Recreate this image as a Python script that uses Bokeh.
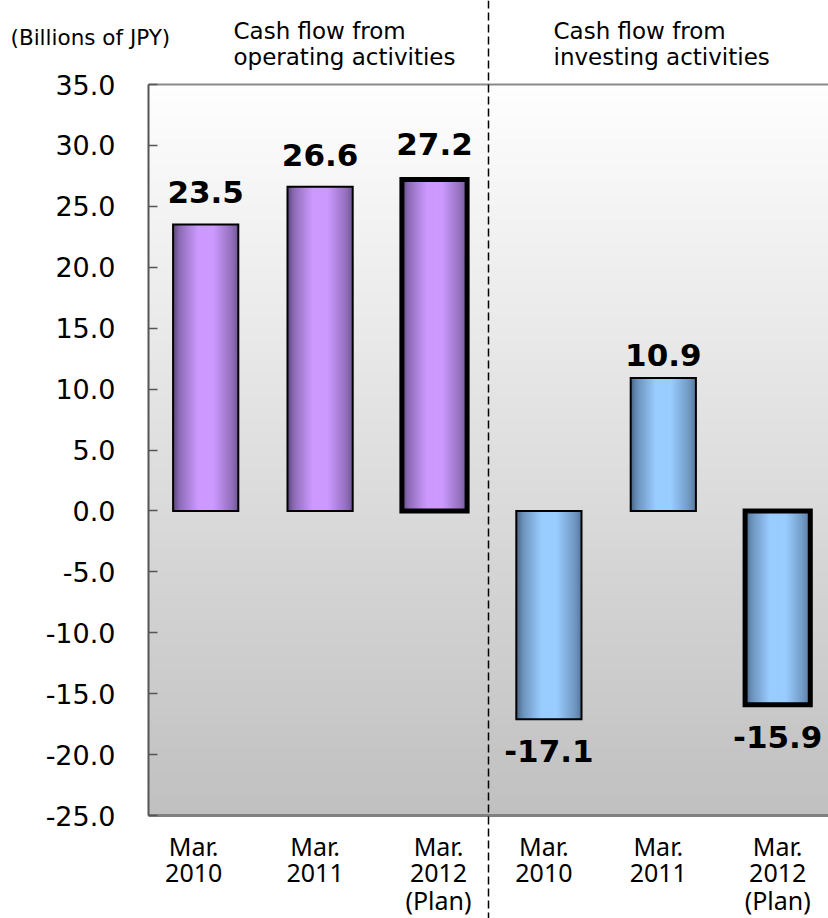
import numpy as np
from bokeh.plotting import figure
from bokeh.models import Range1d, FixedTicker, PrintfTickFormatter, Span, ColumnDataSource
from bokeh.core.properties import value
from bokeh.embed import file_html
from bokeh.resources import INLINE

# ---------------- data ----------------
unit_label = "(Billions of JPY)"
section_line1 = ["Cash flow from", "Cash flow from"]
section_line2 = ["operating activities", "investing activities"]
period_line1 = ["Mar.", "Mar.", "Mar.", "Mar.", "Mar.", "Mar."]
period_line2 = ["2010", "2011", "2012", "2010", "2011", "2012"]
period_line3 = ["", "", "(Plan)", "", "", "(Plan)"]
operating_cf = [23.5, 26.6, 27.2]
investing_cf = [-17.1, 10.9, -15.9]
is_plan = [False, False, True, False, False, True]
y_ticks = [-25, -20, -15, -10, -5, 0, 5, 10, 15, 20, 25, 30, 35]

# ---------------- geometry / style ----------------
W, H = 828, 918
LEFT = 148
TOP_PX, BOT_PX = 84, 815
Y_MIN, Y_MAX = y_ticks[0], y_ticks[-1]
ppu = (BOT_PX - TOP_PX) / (Y_MAX - Y_MIN)
y_lo = Y_MIN - (H - BOT_PX) / ppu
y_hi = Y_MAX + TOP_PX / ppu
SLOT = 114.4
x_start = -LEFT / SLOT
x_end = (W - LEFT) / SLOT
BAR_W = 0.57
DIVIDER_X = (488 - LEFT) / SLOT
BASE_FIX = 0.43            # shift of the alphabetic baseline, in em
label_gap_px = [19, 19, 22, 23, 10, 24]
cat_dx_px = [-12, -5, 4, -5, -5, 0]

def fix(size):
    return -BASE_FIX * size

values = operating_cf + investing_cf
n = len(values)
centers = [i + 0.5 for i in range(n)]

p = figure(width=W, height=H, output_backend="svg", toolbar_location=None,
           x_range=Range1d(x_start, x_end), y_range=Range1d(y_lo, y_hi),
           x_axis_location=None, min_border=0, min_border_left=0, min_border_right=0,
           min_border_top=0, min_border_bottom=0, tools="")
p.outline_line_color = None
p.grid.visible = False
p.background_fill_color = "white"
p.border_fill_color = "white"

# background vertical gradient over the plot area (painter's order, no seams)
nb = 120
edges = np.linspace(Y_MIN, Y_MAX, nb + 1)
top_c = np.array([0xfe, 0xfe, 0xfe])
bot_c = np.array([0xc0, 0xc0, 0xc0])
bg_cols = []
for k in range(nb):
    t = (edges[k] + edges[k + 1]) / 2
    f = (t - Y_MIN) / (Y_MAX - Y_MIN)
    c = bot_c + (top_c - bot_c) * f
    bg_cols.append("#%02x%02x%02x" % tuple(int(round(v)) for v in c))
p.quad(left=0, right=x_end, bottom=edges[:-1], top=[Y_MAX] * nb,
       fill_color=bg_cols, line_color=None)

# borders of the plot area
p.segment(x0=0, y0=Y_MAX, x1=x_end, y1=Y_MAX, line_color="#8a8a8a", line_width=2)
p.segment(x0=0, y0=Y_MIN, x1=x_end, y1=Y_MIN, line_color="#808080", line_width=3)

# bars with horizontal gradient
def shade(light, dark, f):
    w = np.interp(f, [0, 0.1, 0.38, 0.62, 0.9, 1.0], [0.0, 0.45, 1.0, 1.0, 0.5, 0.2])
    c = np.array(dark) + (np.array(light) - np.array(dark)) * w
    return "#%02x%02x%02x" % tuple(int(round(v)) for v in c)

purple_light, purple_dark = (0xcc, 0x99, 0xff), (0x5a, 0x46, 0x7a)
blue_light, blue_dark = (0x99, 0xcc, 0xff), (0x46, 0x62, 0x84)
ns = 40
sl, sr, sb, st, sc = [], [], [], [], []
for i, v in enumerate(values):
    light, dark = (purple_light, purple_dark) if i < 3 else (blue_light, blue_dark)
    x0 = centers[i] - BAR_W / 2
    x1 = centers[i] + BAR_W / 2
    for k in range(ns):
        sl.append(x0 + BAR_W * k / ns)
        sr.append(x1)
        sb.append(min(0, v))
        st.append(max(0, v))
        sc.append(shade(light, dark, (k + 0.5) / ns))
p.quad(left=sl, right=sr, bottom=sb, top=st, fill_color=sc, line_color=None)

src = ColumnDataSource(dict(
    left=[c - BAR_W / 2 for c in centers], right=[c + BAR_W / 2 for c in centers],
    bottom=[min(0, v) for v in values], top=[max(0, v) for v in values],
    lw=[5 if pl else 2 for pl in is_plan]))
p.quad(left="left", right="right", bottom="bottom", top="top", source=src,
       fill_color=None, line_color="black", line_width="lw", line_join="miter")

# value labels
VS = 31
for i, v in enumerate(values):
    off = -label_gap_px[i] if v >= 0 else label_gap_px[i] + 22
    p.text(x=[centers[i]], y=[v], text=["%.1f" % v], text_align="center",
           text_baseline="alphabetic", y_offset=off + fix(VS),
           text_font=value("DejaVu Sans"), text_font_style="bold",
           text_font_size="%dpx" % VS, text_color="black")

# category labels
CS = 25
for lines, dy in zip([period_line1, period_line2, period_line3], [41, 68, 95]):
    p.text(x=centers, y=[Y_MIN] * n, text=lines, text_align="center",
           text_baseline="alphabetic", y_offset=dy + fix(CS), x_offset=cat_dx_px,
           text_font=value("Noto Sans"), text_font_size="%dpx" % CS, text_color="black")

# section headers
HS = 23
hdr_x = [(233 - LEFT) / SLOT, (553 - LEFT) / SLOT]
p.text(x=hdr_x, y=[Y_MAX] * 2, text=section_line1, text_align="left",
       text_baseline="alphabetic", y_offset=-44 + fix(HS),
       text_font=value("DejaVu Sans"), text_font_size="%dpx" % HS, text_color="black")
p.text(x=hdr_x, y=[Y_MAX] * 2, text=section_line2, text_align="left",
       text_baseline="alphabetic", y_offset=-18 + fix(HS),
       text_font=value("DejaVu Sans"), text_font_size="%dpx" % HS, text_color="black")

# unit label
US = 21.5
p.text(x=[(10 - LEFT) / SLOT], y=[Y_MAX], text=[unit_label], text_align="left",
       text_baseline="alphabetic", y_offset=-38 + fix(US),
       text_font=value("DejaVu Sans"), text_font_size="%.1fpx" % US, text_color="black")

# divider
p.add_layout(Span(location=DIVIDER_X, dimension="height", line_color="black",
                  line_width=1.5, line_dash="8 4"))

# y axis, fixed at the left edge of the plot area
ax = p.yaxis[0]
ax.fixed_location = 0
ax.ticker = FixedTicker(ticks=y_ticks)
ax.formatter = PrintfTickFormatter(format="%.1f")
ax.bounds = (Y_MIN, Y_MAX)
ax.axis_line_color = "#555555"
ax.axis_line_width = 2
ax.major_tick_in = 9
ax.major_tick_out = 0
ax.major_tick_line_color = "#555555"
ax.major_tick_line_width = 1.5
ax.minor_tick_line_color = None
ax.major_label_standoff = 33
ax.major_label_text_font = "DejaVu Sans"
ax.major_label_text_font_size = "27px"
ax.major_label_text_color = "black"

open("out.html", "w").write(file_html(p, INLINE))
